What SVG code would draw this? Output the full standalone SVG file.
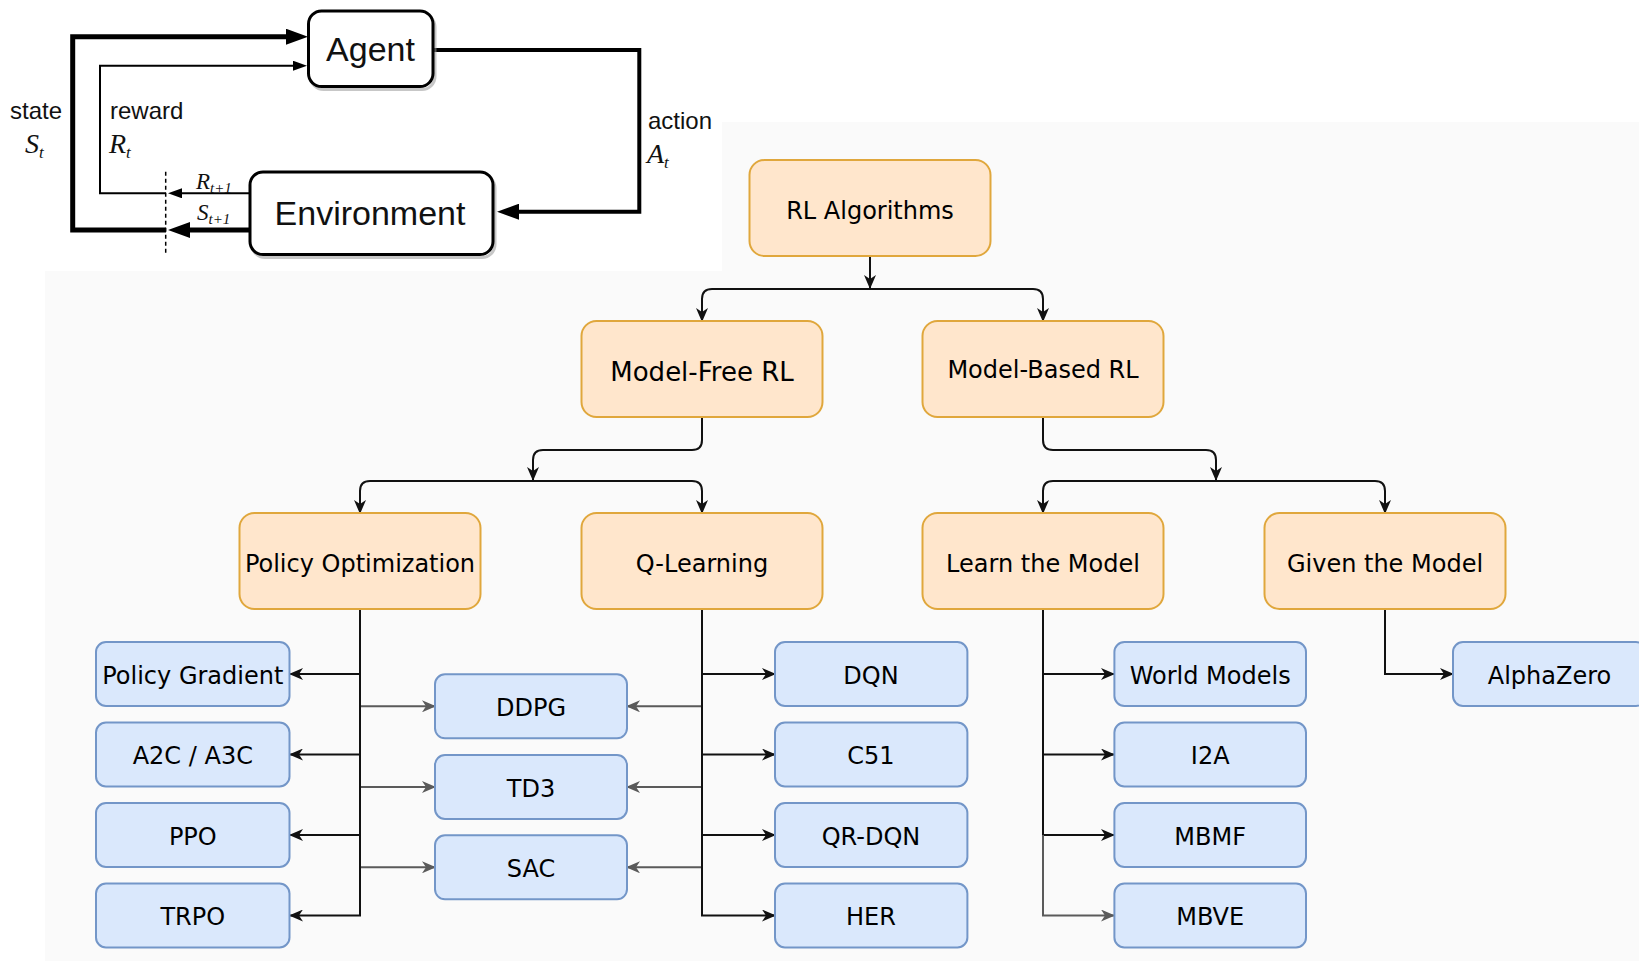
<svg xmlns="http://www.w3.org/2000/svg" width="1639" height="961" viewBox="0 0 1639 961">
<defs>
<style>
.loopbox{fill:#fff;stroke:#000;stroke-width:3}
.shadow{fill:none;stroke:#999;stroke-width:3;opacity:.55}
.lbl{font-family:"Liberation Sans",Arial,sans-serif;font-size:24px;fill:#111}
.big{font-family:"Liberation Sans",Arial,sans-serif;font-size:34px;fill:#111;text-anchor:middle}
.math{font-family:"Liberation Serif","Times New Roman",serif;font-style:italic;fill:#111}
.orange{fill:#ffe6cc;stroke:#e0a73c;stroke-width:2}
.blue{fill:#dae8fc;stroke:#7396c8;stroke-width:2}
.t{font-family:"DejaVu Sans",Verdana,sans-serif;fill:#000;text-anchor:middle}
.leaf{font-size:24px}
.e{fill:none;stroke:#111;stroke-width:2}
.g{fill:none;stroke:#5a5a5a;stroke-width:2}
.thick{fill:none;stroke:#000;stroke-width:5}
.mid{fill:none;stroke:#000;stroke-width:4}
.thin{fill:none;stroke:#000;stroke-width:2}
</style>
<marker id="ah" markerUnits="userSpaceOnUse" markerWidth="14" markerHeight="12" viewBox="0 0 14 12" refX="13" refY="6" orient="auto"><path d="M0,0 L14,6 L0,12 L4,6 Z" fill="#111"/></marker>
<marker id="ahg" markerUnits="userSpaceOnUse" markerWidth="14" markerHeight="12" viewBox="0 0 14 12" refX="13" refY="6" orient="auto"><path d="M0,0 L14,6 L0,12 L4,6 Z" fill="#5a5a5a"/></marker>
<marker id="bigH" markerUnits="userSpaceOnUse" markerWidth="22" markerHeight="16" viewBox="0 0 22 16" refX="0" refY="8" orient="auto"><path d="M0,0 L22,8 L0,16 Z" fill="#000"/></marker>
<marker id="smH" markerUnits="userSpaceOnUse" markerWidth="14" markerHeight="10" viewBox="0 0 14 10" refX="0" refY="5" orient="auto"><path d="M0,0 L14,5 L0,10 Z" fill="#000"/></marker>
</defs>
<rect x="0" y="0" width="1639" height="961" fill="#fff"/>
<path d="M45,271 H722 V122 H1639 V961 H45 Z" fill="#fafafa"/>

<g id="loop-connectors">
<path class="thick" d="M166,230 H72.7 V36.7 H286" marker-end="url(#bigH)"/>
<path class="thick" d="M250,230 H190" marker-end="url(#bigH)"/>
<path class="thin" d="M166,193.3 H100 V65.7 H293" marker-end="url(#smH)"/>
<path class="thin" d="M250,193.3 H182" marker-end="url(#smH)"/>
<path class="mid" d="M433,50 H639.3 V211.7 H519" marker-end="url(#bigH)"/>
<path d="M165.7,171.7 V255" stroke="#000" stroke-width="1.5" stroke-dasharray="4,3" fill="none"/>
</g>
<g id="agent">
<rect class="shadow" x="310.5" y="14" width="124.5" height="75.5" rx="13"/>
<rect class="loopbox" x="308.5" y="11" width="124.5" height="75.5" rx="13"/>
<text class="big" x="370.5" y="61">Agent</text>
</g>
<g id="environment">
<rect class="shadow" x="252" y="175" width="243" height="82.5" rx="13"/>
<rect class="loopbox" x="250" y="172" width="243" height="82.5" rx="13"/>
<text class="big" x="370" y="225">Environment</text>
</g>
<g id="loop-labels">
<text class="lbl" x="10" y="119">state</text>
<text class="math" x="25" y="153" font-size="28">S<tspan font-size="17" dy="5">t</tspan></text>
<text class="lbl" x="110" y="119">reward</text>
<text class="math" x="109" y="153" font-size="28">R<tspan font-size="17" dy="5">t</tspan></text>
<text class="lbl" x="648" y="129">action</text>
<text class="math" x="647" y="163" font-size="28">A<tspan font-size="17" dy="5">t</tspan></text>
<text class="math" x="196" y="189" font-size="23">R<tspan font-size="15" dy="4">t+1</tspan></text>
<text class="math" x="197" y="220" font-size="23">S<tspan font-size="15" dy="4">t+1</tspan></text>
</g>

<g id="connectors">
<path class="e" d="M870,256 V288" marker-end="url(#ah)"/>
<path class="e" d="M870,289 H712 Q702,289 702,299 V321" marker-end="url(#ah)"/>
<path class="e" d="M870,289 H1033 Q1043,289 1043,299 V321" marker-end="url(#ah)"/>
<path class="e" d="M702,417 V440 Q702,450 692,450 H543 Q533,450 533,460 V480" marker-end="url(#ah)"/>
<path class="e" d="M533,481 H370 Q360,481 360,491 V513" marker-end="url(#ah)"/>
<path class="e" d="M533,481 H692 Q702,481 702,491 V513" marker-end="url(#ah)"/>
<path class="e" d="M1043,417 V440 Q1043,450 1053,450 H1206 Q1216,450 1216,460 V480" marker-end="url(#ah)"/>
<path class="e" d="M1216,481 H1053 Q1043,481 1043,491 V513" marker-end="url(#ah)"/>
<path class="e" d="M1216,481 H1375 Q1385,481 1385,491 V513" marker-end="url(#ah)"/>

<path class="g" d="M360,706.3 H435" marker-end="url(#ahg)"/>
<path class="g" d="M360,787 H435" marker-end="url(#ahg)"/>
<path class="g" d="M360,867.3 H435" marker-end="url(#ahg)"/>
<path class="g" d="M702,706.3 H627" marker-end="url(#ahg)"/>
<path class="g" d="M702,787 H627" marker-end="url(#ahg)"/>
<path class="g" d="M702,867.3 H627" marker-end="url(#ahg)"/>

<path class="e" d="M360,609 V674 H290" marker-end="url(#ah)"/>
<path class="e" d="M360,609 V754.5 H290" marker-end="url(#ah)"/>
<path class="e" d="M360,609 V835 H290" marker-end="url(#ah)"/>
<path class="e" d="M360,609 V915.5 H290" marker-end="url(#ah)"/>

<path class="e" d="M702,609 V674 H775" marker-end="url(#ah)"/>
<path class="e" d="M702,609 V754.5 H775" marker-end="url(#ah)"/>
<path class="e" d="M702,609 V835 H775" marker-end="url(#ah)"/>
<path class="e" d="M702,609 V915.5 H775" marker-end="url(#ah)"/>

<path class="e" d="M1043,609 V674 H1114" marker-end="url(#ah)"/>
<path class="e" d="M1043,609 V754.5 H1114" marker-end="url(#ah)"/>
<path class="e" d="M1043,609 V835 H1114" marker-end="url(#ah)"/>
<path class="g" d="M1043,835 V915.5 H1114" marker-end="url(#ahg)"/>

<path class="e" d="M1385,609 V674 H1453" marker-end="url(#ah)"/>
</g>

<g id="rl-algorithms"><rect class="orange" x="749.5" y="160" width="241" height="96" rx="15"/><text class="t" x="870" y="218.5" font-size="24">RL Algorithms</text></g>
<g id="model-free"><rect class="orange" x="581.5" y="321" width="241" height="96" rx="15"/><text class="t" x="702" y="380.5" font-size="26">Model-Free RL</text></g>
<g id="model-based"><rect class="orange" x="922.5" y="321" width="241" height="96" rx="15"/><text class="t" x="1043" y="378" font-size="24">Model-Based RL</text></g>
<g id="policy-optimization"><rect class="orange" x="239.5" y="513" width="241" height="96" rx="15"/><text class="t" x="360" y="572" font-size="24">Policy Optimization</text></g>
<g id="q-learning"><rect class="orange" x="581.5" y="513" width="241" height="96" rx="15"/><text class="t" x="702" y="572" font-size="24">Q-Learning</text></g>
<g id="learn-model"><rect class="orange" x="922.5" y="513" width="241" height="96" rx="15"/><text class="t" x="1043" y="572" font-size="24">Learn the Model</text></g>
<g id="given-model"><rect class="orange" x="1264.5" y="513" width="241" height="96" rx="15"/><text class="t" x="1385" y="572" font-size="24">Given the Model</text></g>

<g id="policy-gradient"><rect class="blue" x="96" y="642" width="193.5" height="64" rx="10"/><text class="t leaf" x="192.8" y="683.5">Policy Gradient</text></g>
<g id="a2c-a3c"><rect class="blue" x="96" y="722.5" width="193.5" height="64" rx="10"/><text class="t leaf" x="192.8" y="764">A2C / A3C</text></g>
<g id="ppo"><rect class="blue" x="96" y="803" width="193.5" height="64" rx="10"/><text class="t leaf" x="192.8" y="844.5">PPO</text></g>
<g id="trpo"><rect class="blue" x="96" y="883.5" width="193.5" height="64" rx="10"/><text class="t leaf" x="192.8" y="925">TRPO</text></g>

<g id="ddpg"><rect class="blue" x="435" y="674.3" width="192" height="64" rx="10"/><text class="t leaf" x="531" y="715.8">DDPG</text></g>
<g id="td3"><rect class="blue" x="435" y="755" width="192" height="64" rx="10"/><text class="t leaf" x="531" y="796.5">TD3</text></g>
<g id="sac"><rect class="blue" x="435" y="835.3" width="192" height="64" rx="10"/><text class="t leaf" x="531" y="876.8">SAC</text></g>

<g id="dqn"><rect class="blue" x="775" y="642" width="192.4" height="64" rx="10"/><text class="t leaf" x="871" y="683.5">DQN</text></g>
<g id="c51"><rect class="blue" x="775" y="722.5" width="192.4" height="64" rx="10"/><text class="t leaf" x="871" y="764">C51</text></g>
<g id="qr-dqn"><rect class="blue" x="775" y="803" width="192.4" height="64" rx="10"/><text class="t leaf" x="871" y="844.5">QR-DQN</text></g>
<g id="her"><rect class="blue" x="775" y="883.5" width="192.4" height="64" rx="10"/><text class="t leaf" x="871" y="925">HER</text></g>

<g id="world-models"><rect class="blue" x="1114.4" y="642" width="191.6" height="64" rx="10"/><text class="t leaf" x="1210.2" y="683.5">World Models</text></g>
<g id="i2a"><rect class="blue" x="1114.4" y="722.5" width="191.6" height="64" rx="10"/><text class="t leaf" x="1210.2" y="764">I2A</text></g>
<g id="mbmf"><rect class="blue" x="1114.4" y="803" width="191.6" height="64" rx="10"/><text class="t leaf" x="1210.2" y="844.5">MBMF</text></g>
<g id="mbve"><rect class="blue" x="1114.4" y="883.5" width="191.6" height="64" rx="10"/><text class="t leaf" x="1210.2" y="925">MBVE</text></g>

<g id="alphazero"><rect class="blue" x="1453" y="642" width="193" height="64" rx="10"/><text class="t leaf" x="1549.5" y="683.5">AlphaZero</text></g>
</svg>
